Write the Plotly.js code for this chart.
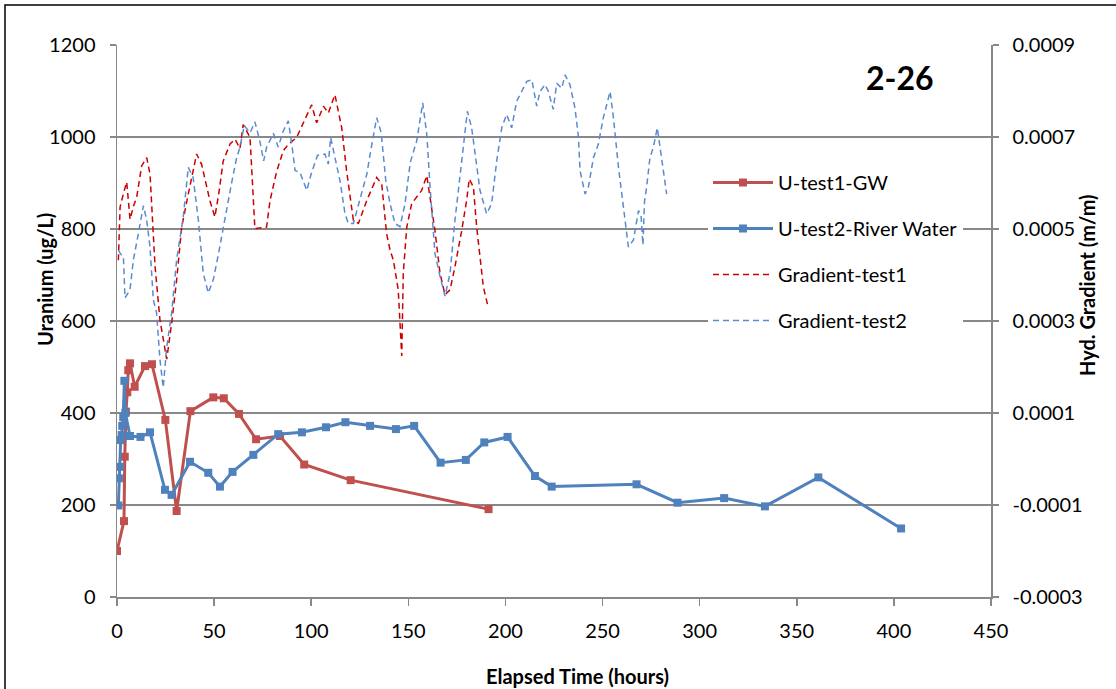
<!DOCTYPE html>
<html>
<head>
<meta charset="utf-8">
<script src="https://cdn.plot.ly/plotly-3.0.1.min.js"></script>
<style>
  html, body { margin: 0; padding: 0; background: #fff; }
  #chart { width: 1116px; height: 689px; }
</style>
</head>
<body>
<div id="chart"></div>
<script>
// ---- Data ----
const time1 = [0, 3.6, 4, 4.6, 5.3, 5.8, 6.7, 9.1, 14.4, 18, 24.9, 30.7, 37.8, 49.6, 55, 62.8, 71.6, 83.9, 96.4, 120.3, 191.3];
const uranium1 = [100, 165, 305, 403, 445, 493, 508, 457, 502, 506, 385, 187, 404, 434, 432, 398, 343, 350, 288, 254, 191];

const time2 = [0.7, 1, 1.4, 1.9, 2.4, 2.7, 3.2, 3.8, 4.3, 6.7, 12.1, 17, 24.7, 28.1, 37.6, 47, 53, 59.5, 70.2, 83, 95.2, 107.6, 117.6, 130.3, 143.6, 153, 166.6, 179.6, 189.1, 201.1, 215.2, 223.8, 267.5, 288.6, 312.6, 333.6, 361.1, 403.7];
const uranium2 = [199, 258, 283, 341, 352, 372, 391, 470, 400, 350, 348, 358, 233, 222, 294, 270, 240, 272, 309, 354, 358, 369, 380, 372, 365, 372, 292, 298, 336, 348, 263, 240, 245, 205, 215, 197, 260, 149];

const gradTime1 = [0.7, 1.6, 3.5, 5.0, 6.7, 8.5, 10.1, 12.7, 15.3, 17.0, 19.6, 22.1, 25.6, 28.2, 30.7, 33.3, 36.7, 39.0, 41.0, 43.6, 46.2, 47.8, 50.4, 52.5, 54.7, 58.2, 60.8, 63.3, 65.0, 68.5, 71.0, 74.0, 77.0, 78.8, 82.2, 85.6, 88.2, 92.5, 96.0, 100.2, 102.8, 106.3, 108.8, 112.2, 115.7, 118.2, 121.7, 124.3, 128.6, 133.7, 136.3, 138.8, 140.6, 142.3, 144.8, 146.6, 147.4, 149.2, 151.7, 154.3, 156.9, 159.5, 162.0, 163.7, 166.3, 168.9, 171.5, 174.0, 177.5, 180.0, 181.4, 183.5, 185.2, 186.9, 188.6, 191.2];
const grad1 = [0.000432, 0.000548, 0.000580, 0.000602, 0.000521, 0.000550, 0.000568, 0.000637, 0.000655, 0.000619, 0.000418, 0.000303, 0.000217, 0.000297, 0.000389, 0.000504, 0.000576, 0.000620, 0.000663, 0.000640, 0.000590, 0.000562, 0.000526, 0.000580, 0.000648, 0.000685, 0.000695, 0.000675, 0.000727, 0.000699, 0.000501, 0.000503, 0.000504, 0.000562, 0.000625, 0.000670, 0.000684, 0.000699, 0.000730, 0.000770, 0.000731, 0.000767, 0.000752, 0.000792, 0.000720, 0.000627, 0.000519, 0.000512, 0.000562, 0.000612, 0.000598, 0.000490, 0.000454, 0.000432, 0.000368, 0.000224, 0.000404, 0.000504, 0.000555, 0.000569, 0.000584, 0.000616, 0.000548, 0.000497, 0.000404, 0.000357, 0.000368, 0.000418, 0.000497, 0.000562, 0.000609, 0.000591, 0.000504, 0.000432, 0.000375, 0.000328];

const gradTime2 = [0.7, 2.0, 3.3, 4.1, 6.7, 8.4, 11.0, 13.6, 15.3, 17.0, 18.7, 20.4, 22.1, 23.8, 25.5, 28.1, 30.7, 32.4, 34.1, 36.7, 39.2, 41.9, 44.4, 47.0, 49.6, 52.2, 54.7, 59.0, 61.6, 63.3, 65.5, 68.5, 71.0, 73.6, 75.5, 77.0, 80.5, 83.0, 85.6, 88.2, 90.0, 91.7, 94.2, 97.7, 100.0, 103.2, 107.1, 108.8, 110.0, 112.2, 114.8, 117.4, 119.1, 121.7, 125.1, 128.6, 131.2, 133.7, 136.0, 138.4, 140.6, 143.1, 145.7, 148.3, 151.0, 154.3, 157.4, 159.5, 161.2, 163.7, 166.3, 168.9, 171.5, 174.0, 177.5, 180.4, 182.6, 185.2, 186.9, 190.3, 192.9, 195.5, 198.1, 200.6, 203.2, 205.8, 208.4, 211.0, 213.6, 216.1, 217.8, 220.4, 222.1, 224.6, 226.4, 229.0, 230.7, 233.2, 235.8, 237.6, 238.4, 241.0, 242.7, 245.3, 247.8, 250.4, 253.9, 255.6, 258.2, 260.7, 263.3, 265.9, 268.5, 269.8, 270.8, 271.6, 272.7, 274.4, 276.1, 278.2, 280.4, 283.0];
const grad2 = [0.000454, 0.000445, 0.000440, 0.000350, 0.000368, 0.000432, 0.000490, 0.000551, 0.000519, 0.000461, 0.000346, 0.000317, 0.000217, 0.000155, 0.000240, 0.000317, 0.000433, 0.000476, 0.000526, 0.000634, 0.000612, 0.000519, 0.000404, 0.000361, 0.000390, 0.000445, 0.000504, 0.000600, 0.000655, 0.000677, 0.000725, 0.000709, 0.000733, 0.000690, 0.000648, 0.000677, 0.000708, 0.000678, 0.000713, 0.000735, 0.000684, 0.000627, 0.000623, 0.000584, 0.000620, 0.000660, 0.000663, 0.000641, 0.000699, 0.000655, 0.000605, 0.000533, 0.000512, 0.000512, 0.000562, 0.000619, 0.000684, 0.000742, 0.000710, 0.000605, 0.000555, 0.000512, 0.000505, 0.000555, 0.000645, 0.000691, 0.000774, 0.000706, 0.000591, 0.000447, 0.000397, 0.000354, 0.000404, 0.000519, 0.000648, 0.000756, 0.000720, 0.000634, 0.000584, 0.000533, 0.000555, 0.000648, 0.000720, 0.000749, 0.000720, 0.000778, 0.000799, 0.000821, 0.000824, 0.000767, 0.000799, 0.000814, 0.000799, 0.000760, 0.000817, 0.000806, 0.000835, 0.000814, 0.000763, 0.000699, 0.000627, 0.000576, 0.000591, 0.000655, 0.000684, 0.000742, 0.000799, 0.000742, 0.000634, 0.000548, 0.000461, 0.000476, 0.000540, 0.000530, 0.000465, 0.000560, 0.000591, 0.000655, 0.000677, 0.000720, 0.000655, 0.000576];

const xTickVals = [0, 50, 100, 150, 200, 250, 300, 350, 400, 450];
const yLeftTickVals = [0, 200, 400, 600, 800, 1000, 1200];
const yRightTickVals = [-0.0003, -0.0001, 0.0001, 0.0003, 0.0005, 0.0007, 0.0009];
const yRightTickText = ['-0.0003', '-0.0001', '0.0001', '0.0003', '0.0005', '0.0007', '0.0009'];

const seriesNames = ['U-test1-GW', 'U-test2-River Water', 'Gradient-test1', 'Gradient-test2'];
const chartLabel = '2-26';
const xTitle = 'Elapsed Time (hours)';
const yLeftTitle = 'Uranium (ug/L)';
const yRightTitle = 'Hyd. Gradient (m/m)';

// ---- Chart ----
const FONT = 'Lato, "Liberation Sans", sans-serif';
const GRID = '#888888';

const traces = [
  {
    name: seriesNames[0], x: time1, y: uranium1, type: 'scatter', mode: 'lines+markers',
    line: { color: '#C0504D', width: 3 },
    marker: { symbol: 'square', size: 8, color: '#C0504D' },
    legendgroup: 'g1'
  },
  {
    name: seriesNames[1], x: time2, y: uranium2, type: 'scatter', mode: 'lines+markers',
    line: { color: '#4F81BD', width: 3 },
    marker: { symbol: 'square', size: 8, color: '#4F81BD' },
    legendgroup: 'g2'
  },
  {
    name: seriesNames[2], x: gradTime1, y: grad1, type: 'scatter', mode: 'lines', yaxis: 'y2',
    line: { color: '#CC0000', width: 1.5, dash: '6px,4px' },
    legendgroup: 'g3'
  },
  {
    name: seriesNames[3], x: gradTime2, y: grad2, type: 'scatter', mode: 'lines', yaxis: 'y2',
    line: { color: '#5A8BD0', width: 1.5, dash: '6px,4px' },
    legendgroup: 'g4'
  }
];

const L = 117, R = 991, T = 45, B = 597;
const px = v => (v - L) / (R - L);
const py = v => (B - v) / (B - T);

const layout = {
  width: 1116, height: 689,
  margin: { l: 117, r: 1116 - 991, t: 45, b: 689 - 597, pad: 0 },
  paper_bgcolor: '#ffffff', plot_bgcolor: '#ffffff',
  font: { family: FONT, size: 20, color: '#000000' },
  showlegend: true,
  legend: {
    x: px(708), y: py(163), xanchor: 'left', yanchor: 'top',
    bgcolor: '#ffffff', borderwidth: 0,
    font: { family: FONT, size: 20, color: '#000000' },
    tracegroupgap: 17,
    itemwidth: 60
  },
  xaxis: {
    range: [0, 450], tickmode: 'array', tickvals: xTickVals,
    showgrid: false, zeroline: false,
    showline: true, linecolor: GRID, linewidth: 1.5,
    ticks: 'outside', ticklen: 7, tickwidth: 1.5, tickcolor: GRID,
    tickfont: { family: FONT, size: 20, color: '#000000' },
    ticklabelstandoff: 8
  },
  yaxis: {
    range: [0, 1200], tickmode: 'array', tickvals: yLeftTickVals,
    showgrid: true, gridcolor: GRID, gridwidth: 1.5, zeroline: false,
    showline: true, linecolor: GRID, linewidth: 1.5,
    ticks: 'outside', ticklen: 6, tickwidth: 1.5, tickcolor: GRID,
    tickfont: { family: FONT, size: 20, color: '#000000' },
    ticklabelstandoff: 10
  },
  yaxis2: {
    overlaying: 'y', side: 'right',
    range: [-0.0003, 0.0009], tickmode: 'array', tickvals: yRightTickVals, ticktext: yRightTickText,
    showgrid: false, zeroline: false,
    showline: true, linecolor: GRID, linewidth: 1.5,
    ticks: 'outside', ticklen: 6, tickwidth: 1.5, tickcolor: GRID,
    tickfont: { family: FONT, size: 20, color: '#000000' },
    ticklabelstandoff: 10
  },
  annotations: [
    { text: '<b>' + chartLabel + '</b>', xref: 'paper', yref: 'paper', x: px(900), y: py(77),
      xanchor: 'center', yanchor: 'middle', showarrow: false,
      font: { family: FONT, size: 32, color: '#000000' } },
    { text: '<b>' + xTitle + '</b>', xref: 'paper', yref: 'paper', x: px(577), y: py(676),
      xanchor: 'center', yanchor: 'middle', showarrow: false,
      font: { family: FONT, size: 20, color: '#000000' } },
    { text: '<b>' + yLeftTitle + '</b>', xref: 'paper', yref: 'paper', x: px(45), y: py(280),
      xanchor: 'center', yanchor: 'middle', showarrow: false, textangle: -90,
      font: { family: FONT, size: 20, color: '#000000' } },
    { text: '<b>' + yRightTitle + '</b>', xref: 'paper', yref: 'paper', x: px(1087), y: py(285),
      xanchor: 'center', yanchor: 'middle', showarrow: false, textangle: -90,
      font: { family: FONT, size: 20, color: '#000000' } }
  ],
  shapes: [
    { type: 'rect', xref: 'paper', yref: 'paper', layer: 'above',
      x0: px(5), x1: px(1125), y0: py(700), y1: py(5),
      line: { color: '#000000', width: 1.5 }, fillcolor: 'rgba(0,0,0,0)' }
  ]
};

Plotly.newPlot('chart', traces, layout, { staticPlot: true, displayModeBar: false });
</script>
</body>
</html>
